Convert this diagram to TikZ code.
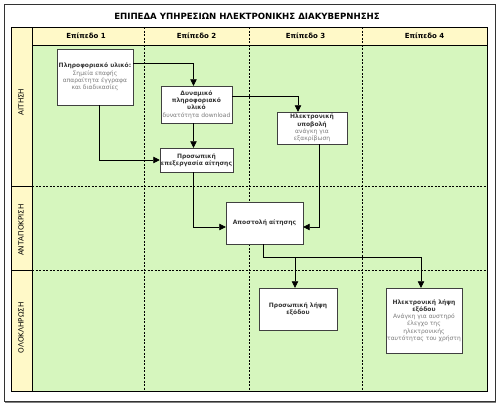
\documentclass[tikz,border=0pt]{standalone}
\usepackage{fontspec}
\setmainfont{DejaVu Sans}
\usepackage{tikz}
\usetikzlibrary{arrows.meta,calc}
\definecolor{lanegreen}{RGB}{214,246,190}
\definecolor{headyellow}{RGB}{255,249,200}
\definecolor{subgrey}{RGB}{125,125,125}
\definecolor{boxtext}{RGB}{55,55,55}

\begin{document}
\begin{tikzpicture}[x=1pt,y=-1pt,
  box/.style={draw=black!75,fill=white,align=center,inner sep=1pt,text=boxtext,font=\fontsize{6}{7.3}\selectfont},
  flow/.style={-{Triangle[length=6.5pt,width=6.5pt]},line width=0.7pt},
  lanelabel/.style={rotate=90,font=\fontsize{7.2}{8}\selectfont},
  colhead/.style={font=\bfseries\fontsize{7}{8}\selectfont},
  lanesep/.style={dash pattern=on 2pt off 1.5pt}]
\useasboundingbox (0,0) rectangle (503,410);

% Outer frame
\fill[white] (0,0) rectangle (503,410);
\draw[gray,line width=2pt] (5,402) -- (496,402);
\draw[black!80] (4,4) rectangle (495,401);

% Title
\node[font=\bfseries\fontsize{8.6}{10}\selectfont] (title) at (247,16) {ΕΠΙΠΕΔΑ ΥΠΗΡΕΣΙΩΝ ΗΛΕΚΤΡΟΝΙΚΗΣ ΔΙΑΚΥΒΕΡΝΗΣΗΣ};

% Pool background
\fill[lanegreen] (32,45) rectangle (487,391);
\fill[headyellow] (32,27) rectangle (487,45);
\fill[headyellow] (11,27) rectangle (32,391);

% Pool lines
\draw (11,27) rectangle (487,391);
\draw (32,27) -- (32,391);
\draw (32,45) -- (487,45);
\draw (11,186) -- (32,186);
\draw (11,270) -- (32,270);
\draw[lanesep] (32,186) -- (487,186);
\draw[lanesep] (32,270) -- (487,270);
\foreach \x in {144,249,362}
  \draw[lanesep] (\x,27) -- (\x,391);

% Column headers
\node[colhead] (h1) at (86,36) {Επίπεδο 1};
\node[colhead] (h2) at (196.5,36) {Επίπεδο 2};
\node[colhead] (h3) at (305.5,36) {Επίπεδο 3};
\node[colhead] (h4) at (424.5,36) {Επίπεδο 4};

% Lane labels
\node[lanelabel] (l1) at (21,102) {ΑΙΤΗΣΗ};
\node[lanelabel] (l2) at (21,230) {ΑΝΤΑΠΟΚΡΙΣΗ};
\node[lanelabel] (l3) at (21,328) {ΟΛΟΚΛΗΡΩΣΗ};

% Boxes
\node[box,minimum width=76,minimum height=56] (A) at (95,77)
  {\textbf{Πληροφοριακό υλικό:}\\\textcolor{subgrey}{Σημεία επαφής}\\\textcolor{subgrey}{απαραίτητα έγγραφα}\\\textcolor{subgrey}{και διαδικασίες}};
\node[box,minimum width=71,minimum height=37] (B) at (196.5,104.5)
  {\textbf{Δυναμικό}\\\textbf{πληροφοριακό}\\\textbf{υλικό}\\\textcolor{subgrey}{δυνατότητα download}};
\node[box,minimum width=72,minimum height=24] (C) at (196.5,160)
  {\textbf{Προσωπική}\\\textbf{επεξεργασία αίτησης}};
\node[box,minimum width=70,minimum height=32] (D) at (312,128)
  {\textbf{Ηλεκτρονική}\\\textbf{υποβολή}\\\textcolor{subgrey}{ανάγκη για}\\\textcolor{subgrey}{εξακρίβωση}};
\node[box,minimum width=77,minimum height=42] (E) at (264.5,223)
  {\textbf{Αποστολή αίτησης}};
\node[box,minimum width=78,minimum height=42] (F) at (298,309)
  {\textbf{Προσωπική λήψη}\\\textbf{εξόδου}};
\node[box,minimum width=76,minimum height=65] (G) at (424,320.5)
  {\textbf{Ηλεκτρονική λήψη}\\\textbf{εξόδου}\\\textcolor{subgrey}{Ανάγκη για αυστηρό}\\\textcolor{subgrey}{έλεγχο της}\\\textcolor{subgrey}{ηλεκτρονικής}\\\textcolor{subgrey}{ταυτότητας του χρήστη}};

% Connectors
\coordinate (Ftop) at ([xshift=-3pt]F.north);
\draw[flow] ([yshift=14pt]A.east) -| ([xshift=-3pt]B.north);
\draw[flow] ([yshift=8pt]B.east) -| ([xshift=-14pt]D.north);
\draw[flow] ([xshift=4pt]A.south) |- (C.west);
\draw[flow] ([xshift=-3pt]B.south) -- ([xshift=-3pt]C.north);
\draw[flow] ([xshift=-3pt]C.south) |- ([yshift=-4pt]E.west);
\draw[flow] ([xshift=7pt]D.south) |- ([yshift=-4pt]E.east);
\draw[flow] ([xshift=-1.5pt]E.south) -- ++(0,13) coordinate (split) -| ([xshift=-3pt]G.north);
\draw[flow] (split -| Ftop) -- (Ftop);
\end{tikzpicture}
\end{document}
